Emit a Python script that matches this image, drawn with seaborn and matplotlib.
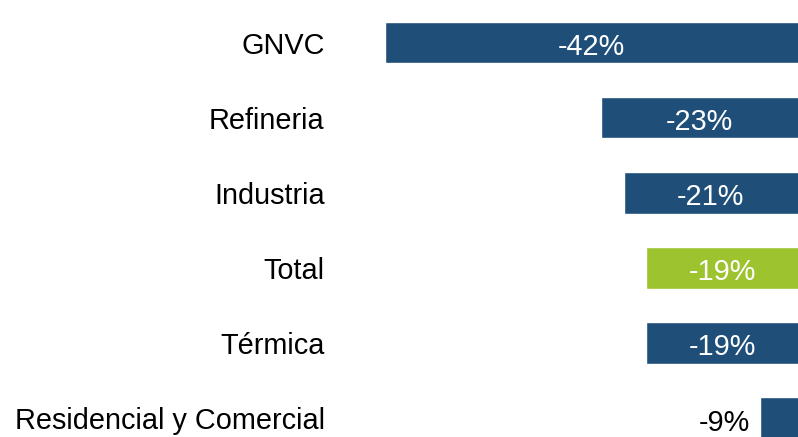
import matplotlib
matplotlib.use("Agg")
import matplotlib.pyplot as plt
import seaborn as sns
import pandas as pd

# Datos del gráfico
categorias = ["GNVC", "Refineria", "Industria", "Total", "Térmica", "Residencial y Comercial"]
variacion = [-42, -23, -21, -19, -19, -9]
etiquetas = ["-42%", "-23%", "-21%", "-19%", "-19%", "-9%"]
grupo = ["sector", "sector", "sector", "total", "sector", "sector"]

azul = "#1F4E79"
verde = "#9DC32F"

df = pd.DataFrame({"Sector": categorias, "Variacion": variacion, "Grupo": grupo})

sns.set_style("white")
plt.rcParams["font.family"] = ["Liberation Sans", "DejaVu Sans"]

fig = plt.figure(figsize=(7.98, 4.37), dpi=100)
ax = fig.add_axes([340 / 798, 0, 1 - 340 / 798, 1])

sns.barplot(
    data=df, x="Variacion", y="Sector", hue="Grupo",
    palette={"sector": azul, "total": verde}, saturation=1,
    orient="h", dodge=False, width=0.553, legend=False, ax=ax,
)

x_der = -5.66
x_izq = -45.96
ax.set_xlim(x_izq, x_der)
ax.set_ylim(5.253, -0.567)

# Etiquetas de valor
for i, (v, txt) in enumerate(zip(variacion, etiquetas)):
    if v < -12:
        ax.text((v + x_der) / 2, i + 0.02, txt, ha="center", va="center_baseline",
                color="white", fontsize=20.8)
    else:
        ax.text(v - 0.9, i + 0.02, txt, ha="right", va="center_baseline",
                color="black", fontsize=20.8)

ax.set_xlabel("")
ax.set_ylabel("")
ax.set_xticks([])
ax.tick_params(axis="y", length=0, pad=11, labelsize=20.8, labelcolor="black")
for s in ax.spines.values():
    s.set_visible(False)

fig.savefig("out.png", dpi=100)
